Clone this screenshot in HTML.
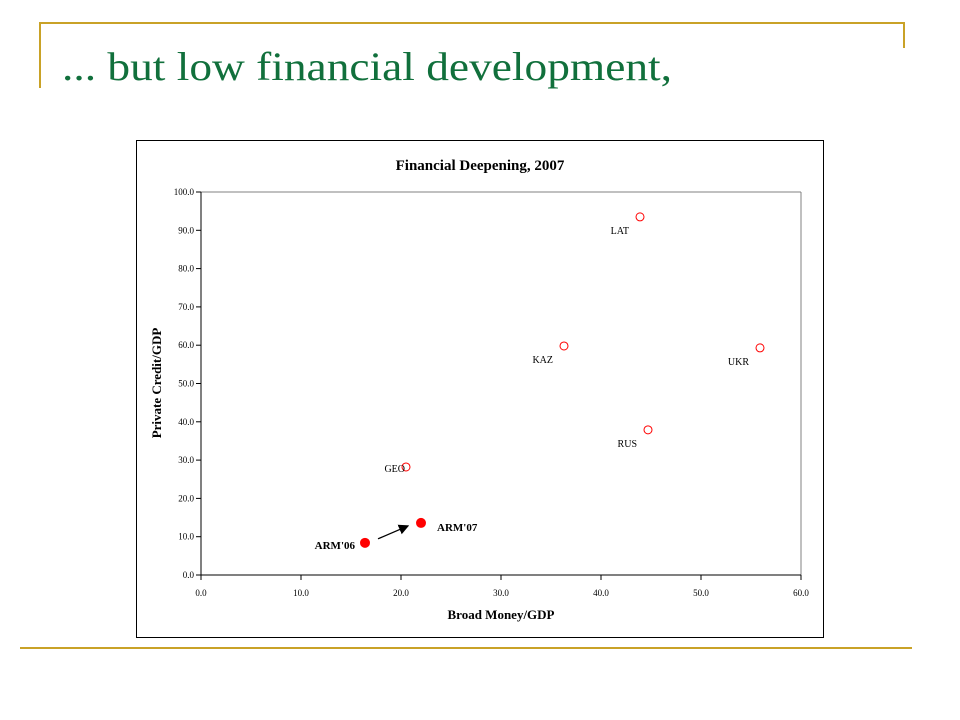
<!DOCTYPE html>
<html><head><meta charset="utf-8"><style>
html,body{margin:0;padding:0;background:#fff;}
svg{display:block;font-family:"Liberation Serif",serif;}
</style></head><body>
<svg width="960" height="720" viewBox="0 0 960 720" xmlns="http://www.w3.org/2000/svg">
  <g>
    <line x1="39" y1="23" x2="905" y2="23" stroke="#c9a227" stroke-width="2"/>
    <line x1="40" y1="22" x2="40" y2="88" stroke="#c9a227" stroke-width="2"/>
    <line x1="904" y1="22" x2="904" y2="48" stroke="#c9a227" stroke-width="2"/>
    <line x1="20" y1="648" x2="912" y2="648" stroke="#c9a227" stroke-width="2"/>
  </g>
  <text x="62" y="80" font-size="40" fill="#11703c" textLength="610" lengthAdjust="spacingAndGlyphs">... but low financial development,</text>
  <rect x="136.5" y="140.5" width="687" height="497" fill="#fff" stroke="#000" stroke-width="1"/>
  <text x="480" y="170" font-size="15" font-weight="bold" text-anchor="middle">Financial Deepening, 2007</text>
  <g id="plot"></g>
  <text x="501" y="619" font-size="13" font-weight="bold" text-anchor="middle">Broad Money/GDP</text>
  <text x="0" y="0" font-size="13" font-weight="bold" text-anchor="middle" transform="translate(161,383) rotate(-90)">Private Credit/GDP</text>
</svg>
<script>
const countries = ["LAT","KAZ","UKR","RUS","GEO","ARM'06","ARM'07"];
const broadMoney = [43.9, 36.3, 55.9, 44.7, 20.5, 16.4, 22.0];
const privateCredit = [93.5, 59.8, 59.3, 37.9, 28.2, 8.4, 13.6];
const highlighted = [false,false,false,false,false,true,true];
const xTicks = [0,10,20,30,40,50,60];
const yTicks = [0,10,20,30,40,50,60,70,80,90,100];
const X0=201,X1=801,Y0=575,Y1=192;
const xs=v=>X0+(v/60)*(X1-X0);
const ys=v=>Y0-(v/100)*(Y0-Y1);
const NS="http://www.w3.org/2000/svg";
const g=document.getElementById('plot');
function mk(t,a,p){const e=document.createElementNS(NS,t);for(const k in a)e.setAttribute(k,a[k]);(p||g).appendChild(e);return e;}
mk('line',{x1:X0,y1:Y1,x2:X1,y2:Y1,stroke:'#808080'});
mk('line',{x1:X1,y1:Y1,x2:X1,y2:Y0,stroke:'#808080'});
mk('line',{x1:X0,y1:Y1,x2:X0,y2:Y0,stroke:'#000'});
mk('line',{x1:X0,y1:Y0,x2:X1,y2:Y0,stroke:'#000'});
xTicks.forEach(v=>{
  const l=mk('line',{x1:xs(v),y1:Y0,x2:xs(v),y2:Y0+5,stroke:'#000'});
  
  
  const t=mk('text',{x:xs(v),y:Y0+21,'font-size':9,'text-anchor':'middle'});
  
  
  t.textContent=v.toFixed(1);
});
yTicks.forEach(v=>{
  const l=mk('line',{x1:X0-5,y1:ys(v),x2:X0,y2:ys(v),stroke:'#000'});
  
  
  const t=mk('text',{x:X0-7,y:ys(v)+3,'font-size':9,'text-anchor':'end'});
  
  
  t.textContent=v.toFixed(1);
});
// arrow between ARM'06 and ARM'07
mk('defs',{}).innerHTML='<marker id="ah" markerWidth="8" markerHeight="8" refX="7" refY="4" orient="auto"><path d="M0,0 L8,4 L0,8 z" fill="#000"/></marker>';
const ax1=xs(broadMoney[5])+13, ay1=ys(privateCredit[5])-4, ax2=xs(broadMoney[6])-13, ay2=ys(privateCredit[6])+3;
const ar=mk('line',{x1:ax1,y1:ay1,x2:ax2,y2:ay2,stroke:'#000','stroke-width':1.3,'marker-end':'url(#ah)'});


countries.forEach((c,i)=>{
  const cx=xs(broadMoney[i]), cy=ys(privateCredit[i]);
  const p=mk('circle',{cx:cx,cy:cy,r:highlighted[i]?4.5:4,fill:highlighted[i]?'#ff0000':'#fff',stroke:'#ff0000','stroke-width':1});
  
  
  let lx,ly,anchor='end',bold=highlighted[i];
  if(c==="ARM'07"){lx=cx+16;ly=cy+8;anchor='start';}
  else if(c==="ARM'06"){lx=cx-10;ly=cy+6;}
  else if(c==="GEO"){lx=cx-1;ly=cy+5;}
  else {lx=cx-11;ly=cy+17;}
  const t=mk('text',{x:lx,y:ly,'font-size':bold?11:10,'font-weight':bold?'bold':'normal','text-anchor':anchor});
  
  
  t.textContent=c;
});
</script>
</body></html>
